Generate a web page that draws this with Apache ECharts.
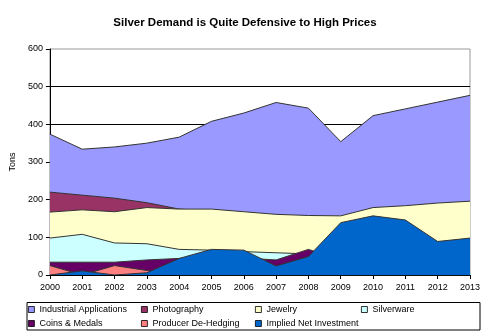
<!DOCTYPE html>
<html>
<head>
<meta charset="utf-8">
<script src="https://cdn.jsdelivr.net/npm/echarts@6/dist/echarts.min.js"></script>
<style>
html,body{margin:0;padding:0;background:#fff;}
#chart{width:490px;height:335px;}
</style>
</head>
<body>
<div id="chart"></div>
<script>
const years = ['2000','2001','2002','2003','2004','2005','2006','2007','2008','2009','2010','2011','2012','2013'];
const yTicks = [0,100,200,300,400,500,600];
const industrial   = [374,334,340,350,366,408,430,458,443,354,423,441,459,477];
const photography  = [220,212,204,192,175,170,163,157,154,150,172,178,184,190];
const jewelry      = [167,173,168,179,175,175,168,161,158,157,179,184,191,196];
const silverware   = [98,108,85,83,68,66,62,59,56,54,54,54,54,54];
const coins        = [34,34,34,40,44,45,45,40,68,40,40,40,40,40];
const dehedging    = [25,0,25,12,0,0,0,0,0,0,0,0,0,0];
const investment   = [0,11,0,6,44,68,66,24,49,139,157,146,89,98];

const names = ['Industrial Applications','Photography','Jewelry','Silverware','Coins & Medals','Producer De-Hedging','Implied Net Investment'];
const colors = ['#9999FF','#993366','#FFFFCC','#CCFFFF','#660066','#FF8080','#0066CC'];
const values = [industrial, photography, jewelry, silverware, coins, dehedging, investment];

const chart = echarts.init(document.getElementById('chart'), null, {renderer:'canvas'});

const legendPos = [
  [28,305],[141,305],[255,305],[361,305],
  [28,319],[141,319],[255,319]
];
const legends = names.map((n,i)=>({
  data:[n],
  left: legendPos[i][0],
  top: legendPos[i][1],
  padding:0,
  icon:'rect',
  itemWidth:6,
  itemHeight:6,
  itemStyle:{borderColor:'#000',borderWidth:0.8},
  lineStyle:{width:0},
  textStyle:{fontFamily:'Liberation Sans, Arial',fontSize:9,color:'#000'},
  selectedMode:false
}));

chart.setOption({
  animation:false,
  backgroundColor:'#fff',
  title:{
    text:'Silver Demand is Quite Defensive to High Prices',
    left:'center',
    top:12,
    textStyle:{fontFamily:'Liberation Sans, Arial',fontSize:11.5,fontWeight:'bold',color:'#000'}
  },
  legend: legends,
  graphic:[{
    type:'rect',
    shape:{x:27,y:302.5,width:453,height:27.5},
    style:{fill:'none',stroke:'#000',lineWidth:1},
    z:-1
  }],
  grid:{left:48,right:20,top:49,bottom:60,show:true,borderColor:'#999',borderWidth:1,backgroundColor:'#fff'},
  xAxis:{
    type:'category',
    data:years,
    boundaryGap:false,
    axisLine:{lineStyle:{color:'#000',width:1}},
    axisTick:{show:true,length:4,lineStyle:{color:'#000'}},
    axisLabel:{fontFamily:'Liberation Sans, Arial',fontSize:9,color:'#000',margin:8,interval:0},
    splitLine:{show:false}
  },
  yAxis:{
    type:'value',
    min:0,max:600,interval:100,
    name:'Tons',
    nameLocation:'middle',
    nameGap:28,
    nameRotate:90,
    nameTextStyle:{fontFamily:'Liberation Sans, Arial',fontSize:9,color:'#000'},
    axisLine:{show:true,lineStyle:{color:'#000',width:1}},
    axisTick:{show:true,length:4,lineStyle:{color:'#000'}},
    axisLabel:{fontFamily:'Liberation Sans, Arial',fontSize:9,color:'#000',margin:7,
      formatter:v=>yTicks.includes(v)?String(v):''},
    splitLine:{show:true,showMaxLine:false,lineStyle:{color:'#000',width:1}}
  },
  series: names.map((n,i)=>({
    name:n,
    type:'line',
    data:values[i],
    symbol:'none',
    color:colors[i],
    lineStyle:{color:'#333',width:1},
    areaStyle:{color:colors[i],opacity:1},
    z:2+i
  }))
});
</script>
</body>
</html>
